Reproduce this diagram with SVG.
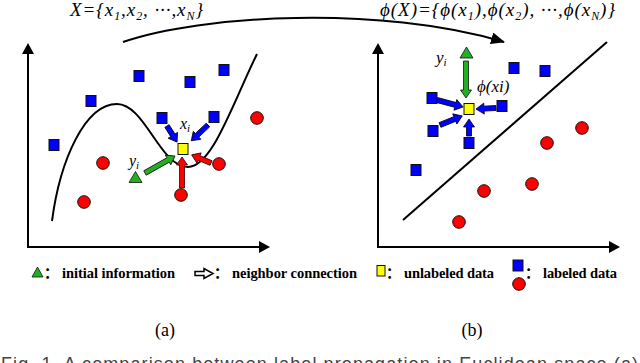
<svg xmlns="http://www.w3.org/2000/svg" width="640" height="363" viewBox="0 0 640 363">
<style>
.ax{fill:none;stroke:#000;stroke-width:2}
.crv{fill:none;stroke:#000;stroke-width:2}
.bs{fill:#0000FF;stroke:#111;stroke-width:1}
.rc{fill:#FF0000;stroke:#111;stroke-width:1}
.ys{fill:#FFFF00;stroke:#111;stroke-width:1}
.gt{fill:#22B022;stroke:#111;stroke-width:0.8}
.ab{fill:#0000FF;stroke:#001;stroke-width:0.8}
.ag{fill:#22B022;stroke:#111;stroke-width:0.8}
.ar{fill:#FF0000;stroke:#300;stroke-width:0.8}
.mi{font-family:"Liberation Serif","DejaVu Serif",serif;font-style:italic;fill:#000}
.lg{font-family:"Liberation Serif","Noto Sans CJK SC",serif;font-weight:bold;font-size:14.5px;fill:#000}
.cap{font-family:"Liberation Serif",serif;font-size:18px;fill:#000}
</style>
<defs>
<marker id="axh" markerUnits="userSpaceOnUse" markerWidth="12" markerHeight="12" refX="0" refY="6" orient="auto-start-reverse" viewBox="0 0 12 12">
<path d="M0,0 L11,6 L0,12 Z" fill="#000"/>
</marker>
<marker id="tph" markerUnits="userSpaceOnUse" markerWidth="14" markerHeight="12" refX="13" refY="6" orient="auto" viewBox="0 0 14 12">
<path d="M0,0 L14,6 L0,12 L0,0 Z" fill="#000"/>
</marker>
</defs>

<g id="axes">
<path class="ax" d="M28,54 L28,247 L259,247" marker-start="url(#axh)" marker-end="url(#axh)"/>
<path class="ax" d="M378,54 L378,247 L609,247" marker-start="url(#axh)" marker-end="url(#axh)"/>
</g>

<g id="boundaries">
<path class="crv" d="M52,221 C60,160 85,104 117,104 C145,104 160,167 188,167 C212,167 232,105 257,54"/>
<path class="crv" d="M403,220 L607,42"/>
</g>

<g id="connectors">
<path class="crv" stroke-width="1.6" d="M123,42 C200,15 380,5 504,42" marker-end="url(#tph)"/>
<path class="ab" transform="translate(167,126) rotate(58)" d="M0,-2.5 H11 V-5.5 L19,0 L11,5.5 V2.5 H0 Z"/>
<path class="ab" transform="translate(208,125) rotate(136.7)" d="M0,-2.5 H15 V-5.5 L23,0 L15,5.5 V2.5 H0 Z"/>
<path class="ag" transform="translate(145,173) rotate(-29.5)" d="M0,-2.5 H26.5 V-5.5 L34.5,0 L26.5,5.5 V2.5 H0 Z"/>
<path class="ar" transform="translate(182,188) rotate(-90)" d="M0,-2.5 H23 V-5.5 L31,0 L23,5.5 V2.5 H0 Z"/>
<path class="ar" transform="translate(211,163) rotate(202.8)" d="M0,-2.5 H13 V-5.5 L21,0 L13,5.5 V2.5 H0 Z"/>
<path class="ab" transform="translate(437,100) rotate(15)" d="M0,-2.5 H19 V-5.5 L27,0 L19,5.5 V2.5 H0 Z"/>
<path class="ab" transform="translate(496,108) rotate(177)" d="M0,-2.5 H12 V-5.5 L20,0 L12,5.5 V2.5 H0 Z"/>
<path class="ab" transform="translate(440,125) rotate(-22.2)" d="M0,-2.5 H16 V-5.5 L24,0 L16,5.5 V2.5 H0 Z"/>
<path class="ab" transform="translate(469,136) rotate(-90)" d="M0,-2.5 H9 V-5.5 L17,0 L9,5.5 V2.5 H0 Z"/>
<path class="ag" transform="translate(466,61) rotate(90)" d="M0,-2.5 H29 V-5.5 L37,0 L29,5.5 V2.5 H0 Z"/>
</g>

<g id="left-nodes">
<g id="L-b1"><rect class="bs" x="134" y="70.5" width="10" height="11"/></g>
<g id="L-b2"><rect class="bs" x="185" y="76.5" width="10" height="11"/></g>
<g id="L-b3"><rect class="bs" x="219" y="64.5" width="10" height="11"/></g>
<g id="L-b4"><rect class="bs" x="86" y="95.5" width="10" height="11"/></g>
<g id="L-b5"><rect class="bs" x="157" y="112.5" width="10" height="11"/></g>
<g id="L-b6"><rect class="bs" x="209" y="111.5" width="10" height="11"/></g>
<g id="L-b7"><rect class="bs" x="49" y="139.5" width="10" height="11"/></g>
<g id="L-r1"><circle class="rc" cx="257" cy="118" r="6.3"/></g>
<g id="L-r2"><circle class="rc" cx="103" cy="163" r="6.3"/></g>
<g id="L-r3"><circle class="rc" cx="84" cy="202" r="6.3"/></g>
<g id="L-r4"><circle class="rc" cx="181" cy="195" r="6.3"/></g>
<g id="L-r5"><circle class="rc" cx="219" cy="164" r="6.3"/></g>
<g id="L-xi"><rect class="ys" x="178" y="143.5" width="10" height="11"/>
<text class="mi" x="180" y="129" font-size="16">x<tspan font-size="11" dy="3">i</tspan></text></g>
<g id="L-yi"><path class="gt" d="M135.5,171.5 L142,182.5 L129,182.5 Z"/>
<text class="mi" x="129" y="166" font-size="16">y<tspan font-size="11" dy="3">i</tspan></text></g>
</g>

<g id="right-nodes">
<g id="R-b1"><rect class="bs" x="509" y="62.5" width="10" height="11"/></g>
<g id="R-b2"><rect class="bs" x="540" y="65.5" width="10" height="11"/></g>
<g id="R-b3"><rect class="bs" x="427" y="92.5" width="10" height="11"/></g>
<g id="R-b4"><rect class="bs" x="497" y="100.5" width="10" height="11"/></g>
<g id="R-b5"><rect class="bs" x="428" y="125.5" width="10" height="11"/></g>
<g id="R-b6"><rect class="bs" x="464" y="137.5" width="10" height="11"/></g>
<g id="R-b7"><rect class="bs" x="411" y="164.5" width="10" height="11"/></g>
<g id="R-r1"><circle class="rc" cx="582" cy="128" r="6.3"/></g>
<g id="R-r2"><circle class="rc" cx="547" cy="143" r="6.3"/></g>
<g id="R-r3"><circle class="rc" cx="532" cy="184" r="6.3"/></g>
<g id="R-r4"><circle class="rc" cx="484" cy="191" r="6.3"/></g>
<g id="R-r5"><circle class="rc" cx="459" cy="222" r="6.3"/></g>
<g id="R-xi"><rect class="ys" x="464" y="103.5" width="10" height="11"/>
<text class="mi" x="477" y="92" font-size="17">ϕ(xi)</text></g>
<g id="R-yi"><path class="gt" d="M466.5,47 L473,58 L460,58 Z"/>
<text class="mi" x="436" y="63" font-size="17">y<tspan font-size="11" dy="3">i</tspan></text></g>
</g>

<g id="titles">
<text class="mi" x="70" y="16" font-size="19" textLength="133" lengthAdjust="spacing">X={x<tspan font-size="12" dy="4">1</tspan><tspan dy="-4">,x</tspan><tspan font-size="12" dy="4">2</tspan><tspan dy="-4">, ···,x</tspan><tspan font-size="12" dy="4">N</tspan><tspan dy="-4">}</tspan></text>
<text class="mi" x="380" y="16" font-size="19" textLength="235" lengthAdjust="spacing">ϕ(X)={ϕ(x<tspan font-size="12" dy="4">1</tspan><tspan dy="-4">),ϕ(x</tspan><tspan font-size="12" dy="4">2</tspan><tspan dy="-4">), ···,ϕ(x</tspan><tspan font-size="12" dy="4">N</tspan><tspan dy="-4">)}</tspan></text>
</g>

<g id="legend">
<g id="lg-init"><path class="gt" d="M37.5,267 L43,277 L32,277 Z"/>
<text class="lg" y="278"><tspan x="44">：</tspan><tspan x="62" textLength="113" lengthAdjust="spacing">initial information</tspan></text></g>
<g id="lg-nb"><path d="M195,271.5 H204 V268.5 L213,273.5 L204,278.5 V275.5 H195 Z" fill="#fff" stroke="#000" stroke-width="1.5"/>
<text class="lg" y="278"><tspan x="214">：</tspan><tspan x="232" textLength="125" lengthAdjust="spacing">neighbor connection</tspan></text></g>
<g id="lg-unl"><rect class="ys" x="377" y="265.5" width="8" height="10.5"/>
<text class="lg" y="278"><tspan x="386">：</tspan><tspan x="404" textLength="90" lengthAdjust="spacing">unlabeled data</tspan></text></g>
<g id="lg-lab"><rect class="bs" x="513" y="260" width="10" height="11"/><circle class="rc" cx="519" cy="284" r="6.3"/>
<text class="lg" y="278"><tspan x="525">：</tspan><tspan x="543" textLength="74" lengthAdjust="spacing">labeled data</tspan></text></g>
</g>

<g id="captions">
<text class="cap" x="165" y="336" text-anchor="middle">(a)</text>
<text class="cap" x="472" y="336" text-anchor="middle">(b)</text>
<text x="1" y="370" font-family="'Liberation Sans',Arial,sans-serif" font-size="18" fill="#444" textLength="637" lengthAdjust="spacing">Fig. 1. A comparison between label propagation in Euclidean space (a)</text>
</g>
</svg>
